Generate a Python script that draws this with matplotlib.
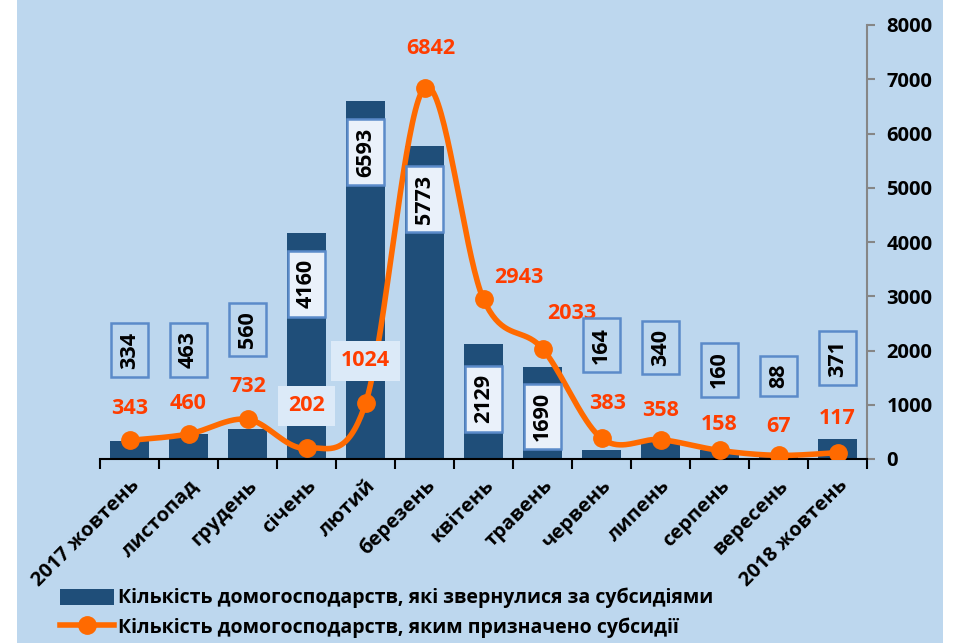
import numpy as np
import matplotlib
matplotlib.use('Agg')
import matplotlib.pyplot as plt
from matplotlib.patches import Rectangle, Patch
from matplotlib.lines import Line2D

# data
months = ['2017 жовтень', 'листопад', 'грудень', 'січень', 'лютий', 'березень',
          'квітень', 'травень', 'червень', 'липень', 'серпень', 'вересень',
          '2018 жовтень']
applied = [334, 463, 560, 4160, 6593, 5773, 2129, 1690, 164, 340, 160, 88, 371]
granted = [343, 460, 732, 202, 1024, 6842, 2943, 2033, 383, 358, 158, 67, 117]

# where the value labels sit (y in data units, x shift in category units)
applied_label_y = [2010, 2010, 2380, 3230, 5660, 4790, 1110, 780, 2100, 2050, 1640, 1530, 1860]
granted_label_y = [940, 1030, 1330, 980, 1810, 7570, 3350, 2690, 1030, 900, 645, 590, 755]
granted_label_dx = [0, 0, 0, 0, 0, 0.1, 0.6, 0.5, 0.1, 0, 0, 0, 0]
inside_bar = [False, False, False, True, True, True, True, True, False, False, False, False, False]

BG = '#BDD7EE'
BAR = '#1F4E79'
LINE = '#FF6A00'
LBL = '#FF3D00'
BOX_EDGE = '#5B8BC9'

plt.rcParams['font.family'] = ['Open Sans', 'DejaVu Sans']
plt.rcParams['font.weight'] = 'bold'


def smooth(xs, ys, n=40):
    """Catmull-Rom style smoothing like Excel's smoothed line."""
    xs = np.asarray(xs, float)
    ys = np.asarray(ys, float)
    px = np.concatenate([[xs[0]], xs, [xs[-1]]])
    py = np.concatenate([[ys[0]], ys, [ys[-1]]])
    out_x, out_y = [], []
    t = np.linspace(0, 1, n)
    for i in range(1, len(px) - 2):
        p0 = np.array([px[i], py[i]])
        p3 = np.array([px[i + 1], py[i + 1]])
        c1 = p0 + (np.array([px[i + 1], py[i + 1]]) - np.array([px[i - 1], py[i - 1]])) / 6
        c2 = p3 - (np.array([px[i + 2], py[i + 2]]) - np.array([px[i], py[i]])) / 6
        bx = (1 - t) ** 3 * p0[0] + 3 * (1 - t) ** 2 * t * c1[0] + 3 * (1 - t) * t ** 2 * c2[0] + t ** 3 * p3[0]
        by = (1 - t) ** 3 * p0[1] + 3 * (1 - t) ** 2 * t * c1[1] + 3 * (1 - t) * t ** 2 * c2[1] + t ** 3 * p3[1]
        out_x.extend(bx)
        out_y.extend(by)
    return np.array(out_x), np.array(out_y)


fig = plt.figure(figsize=(9.57, 6.43), dpi=100)
fig.patches.append(Rectangle((17 / 957, 0), (943 - 17) / 957, 1, transform=fig.transFigure,
                             facecolor=BG, edgecolor='none', zorder=-10))

ax = fig.add_axes([100 / 957, 1 - 459 / 643, (867 - 100) / 957, (459 - 25) / 643])
ax.set_facecolor('none')

x = np.arange(len(months))
ax.bar(x, applied, width=0.67, color=BAR, zorder=2)

sx, sy = smooth(x, granted)
ax.plot(sx, sy, color=LINE, linewidth=4.0, zorder=3, solid_capstyle='round')
ax.plot(x, granted, 'o', color=LINE, markersize=12.5, zorder=4)

for i in range(len(months)):
    face = '#EAF1FA' if inside_bar[i] else BG
    ax.text(x[i], applied_label_y[i], str(applied[i]), rotation=90, ha='center', va='center',
            fontsize=15.5, fontweight='bold', color='black', zorder=5,
            bbox=dict(boxstyle='square,pad=0.38', facecolor=face, edgecolor=BOX_EDGE, linewidth=1.8))
    if granted[i] in (202, 1024):
        ax.text(x[i] + granted_label_dx[i], granted_label_y[i], str(granted[i]), ha='center',
                va='center', fontsize=15.5, fontweight='bold', color=LBL, zorder=5,
                bbox=dict(boxstyle='square,pad=0.45', facecolor='#DCEAF8', edgecolor='none'))
    else:
        ax.text(x[i] + granted_label_dx[i], granted_label_y[i], str(granted[i]), ha='center',
                va='center', fontsize=15.5, fontweight='bold', color=LBL, zorder=5)

ax.set_xlim(-0.5, len(months) - 0.5)
ax.set_ylim(0, 8000)

ax.yaxis.tick_right()
ax.set_yticks(range(0, 8001, 1000))
ax.tick_params(axis='y', colors='#868686', length=6, width=1.5, labelcolor='black',
               labelsize=14.5, pad=8)
for lab in ax.get_yticklabels():
    lab.set_fontweight('bold')

ax.set_xticks(x)
ax.set_xticklabels(months, rotation=45, ha='right', rotation_mode='anchor',
                   fontsize=14.5, fontweight='bold')
ax.tick_params(axis='x', which='major', length=0, pad=12)
ax.set_xticks(np.arange(-0.5, len(months), 1), minor=True)
ax.tick_params(axis='x', which='minor', length=7, width=1.5, color='black')

ax.spines['left'].set_visible(False)
ax.spines['top'].set_visible(False)
ax.spines['right'].set_color('#868686')
ax.spines['right'].set_linewidth(1.5)
ax.spines['bottom'].set_color('black')
ax.spines['bottom'].set_linewidth(1.5)

handles = [Patch(facecolor=BAR, edgecolor='none'),
           Line2D([0], [0], color=LINE, linewidth=4.0, marker='o', markersize=12.5)]
labels = ['Кількість домогосподарств, які звернулися за субсидіями',
          'Кількість домогосподарств, яким призначено субсидії']
fig.legend(handles, labels, loc='upper left', bbox_to_anchor=(52 / 957, 1 - 580 / 643),
           frameon=False, prop={'size': 14, 'weight': 'bold'}, handlelength=2.8,
           handleheight=0.9, handletextpad=0.2, labelspacing=0.45, borderaxespad=0)

fig.savefig('out.png', dpi=100, facecolor='white')
